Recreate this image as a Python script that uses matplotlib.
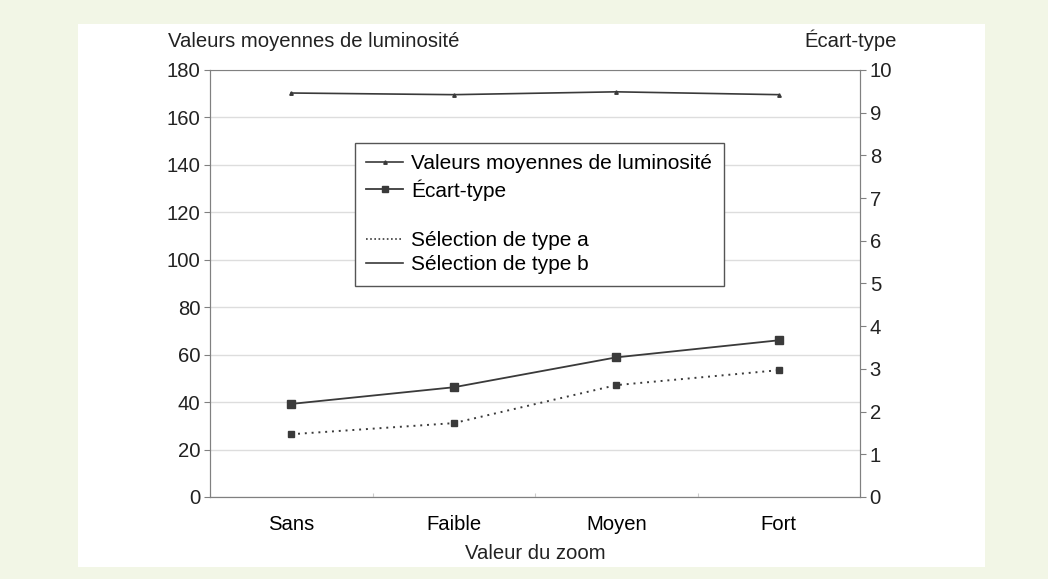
import matplotlib.pyplot as plt
from matplotlib.lines import Line2D

plt.rcParams['font.family'] = ['Liberation Sans', 'DejaVu Sans']

# Données
categories = ['Sans', 'Faible', 'Moyen', 'Fort']
luminosite = [170.3, 169.6, 170.8, 169.6]
ecart_type_b = [2.18, 2.57, 3.27, 3.67]
ecart_type_a = [1.47, 1.73, 2.62, 2.97]

gris_ligne = '#3a3a3a'
gris_axe = '#808080'
taille = 14.6

fig = plt.figure(figsize=(10.48, 5.79), dpi=100)
fig.patch.set_facecolor('#f2f6e6')

# panneau blanc derrière le graphique
fond = fig.add_axes([78 / 1048, 1 - 567 / 579, (985 - 78) / 1048, (567 - 24) / 579])
fond.set_facecolor('white')
fond.set_xticks([])
fond.set_yticks([])
for s in fond.spines.values():
    s.set_visible(False)

ax = fig.add_axes([210 / 1048, 1 - 497 / 579, 650 / 1048, 427 / 579])
ax.set_facecolor('white')
ax2 = ax.twinx()

x = list(range(len(categories)))

ax.plot(x, luminosite, color=gris_ligne, lw=1.2, marker='^', markersize=2.5)
ax2.plot(x, ecart_type_b, color=gris_ligne, lw=1.3, marker='s', markersize=5.5)
ax2.plot(x, ecart_type_a, color=gris_ligne, lw=1.4, ls=(0, (1, 2.5)), marker='s', markersize=4)

ax.set_xlim(-0.5, 3.5)
ax.set_ylim(0, 180)
ax.set_yticks(range(0, 181, 20))
ax2.set_ylim(0, 10)
ax2.set_yticks(range(0, 11))

ax.set_xticks([-0.5, 0.5, 1.5, 2.5, 3.5])
ax.set_xticklabels([])
ax.set_xticks(x, minor=True)
ax.set_xticklabels(categories, minor=True)
ax.tick_params(axis='x', which='minor', length=0, pad=13, labelsize=taille)
ax.tick_params(axis='x', which='major', length=3, direction='in', color='#cccccc')

ax.grid(axis='y', color='#dddddd', lw=1)
ax.set_axisbelow(True)

for a in (ax, ax2):
    for s in a.spines.values():
        s.set_color(gris_axe)
    a.tick_params(axis='y', labelsize=taille, length=4, color=gris_axe, pad=3, labelcolor='#222222')
ax2.spines['top'].set_visible(False)

ax.set_xlabel('Valeur du zoom', fontsize=taille, labelpad=7, color='#222222')
fig.text(168 / 1048, 1 - 47 / 579, 'Valeurs moyennes de luminosité', fontsize=taille, color='#222222', va='baseline')
fig.text(897 / 1048, 1 - 47 / 579, 'Écart-type', fontsize=taille, color='#222222', va='baseline', ha='right')

handles = [
    Line2D([], [], color=gris_ligne, lw=1.2, marker='^', markersize=2.5),
    Line2D([], [], color=gris_ligne, lw=1.3, marker='s', markersize=4),
    Line2D([], [], color='none'),
    Line2D([], [], color=gris_ligne, lw=1.2, ls=(0, (1, 1.5))),
    Line2D([], [], color=gris_ligne, lw=1.2),
]
labels = ['Valeurs moyennes de luminosité', 'Écart-type', ' ', 'Sélection de type a', 'Sélection de type b']
leg = ax2.legend(handles, labels, loc='upper left', bbox_to_anchor=((355 - 210) / 650, (497 - 143) / 427),
                 borderaxespad=0, fancybox=False, fontsize=15, handlelength=1.75, labelspacing=0.27,
                 handletextpad=0.4, borderpad=0.55, framealpha=1)
leg.get_frame().set_edgecolor('#555555')
leg.get_frame().set_linewidth(1)

fig.savefig('out.png', dpi=100, facecolor=fig.get_facecolor())
